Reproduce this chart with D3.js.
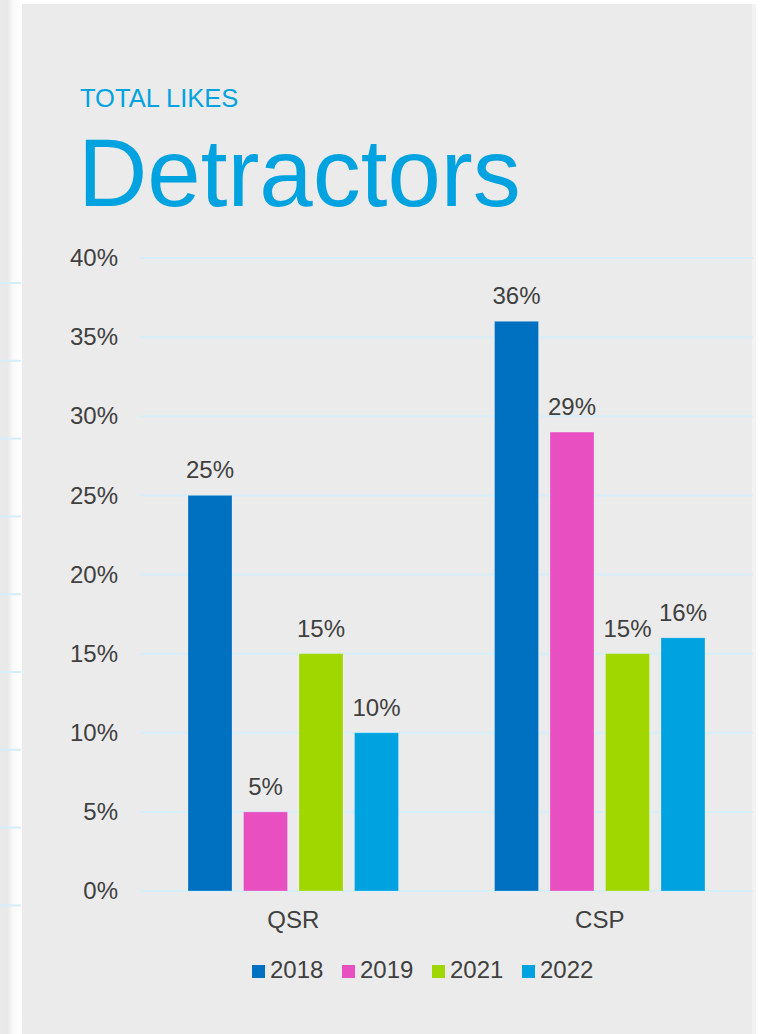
<!DOCTYPE html>
<html>
<head>
<meta charset="utf-8">
<script src="https://cdn.jsdelivr.net/npm/d3@7"></script>
<style>
  body { margin: 0; background: #ffffff; }
  svg { display: block; font-family: "Liberation Sans", Arial, sans-serif; }
</style>
</head>
<body>
<div id="chart"></div>
<script>
// data
var categories = ["QSR", "CSP"];
var years = ["2018", "2019", "2021", "2022"];
var values2018 = [25, 36];
var values2019 = [5, 29];
var values2021 = [15, 15];
var values2022 = [10, 16];
var yTicks = [0, 5, 10, 15, 20, 25, 30, 35, 40];
var colors = ["#0070c0", "#e84fc1", "#a0d700", "#00a3e0"];

var series = [values2018, values2019, values2021, values2022];

var W = 762, H = 1034;
var svg = d3.select("#chart")
  .append("svg")
    .attr("width", W)
    .attr("height", H);

// page background: slice of previous slide on the left, panel, shadow on the right
svg.append("rect").attr("x", 0).attr("y", 0).attr("width", W).attr("height", H).attr("fill", "#ffffff");
svg.append("rect").attr("x", 0).attr("y", 0).attr("width", 7).attr("height", H).attr("fill", "#e9e9e9");
var grad = svg.append("defs").append("linearGradient").attr("id", "strip");
grad.append("stop").attr("offset", "0%").attr("stop-color", "#e6e6e6");
grad.append("stop").attr("offset", "40%").attr("stop-color", "#fafafa");
grad.append("stop").attr("offset", "100%").attr("stop-color", "#ffffff");
svg.append("rect").attr("x", 7).attr("y", 0).attr("width", 15).attr("height", H).attr("fill", "url(#strip)");
svg.append("rect").attr("x", 752).attr("y", 4).attr("width", 4).attr("height", H).attr("fill", "#f2f2f2");
svg.append("rect").attr("x", 22).attr("y", 4).attr("width", 730).attr("height", H).attr("fill", "#ebebeb");

// faint gridlines of the neighbouring slide
var sideLines = d3.range(9);
svg.selectAll(".side")
  .data(sideLines)
  .enter().append("line")
    .attr("x1", 0).attr("x2", 21)
    .attr("y1", function(d) { return 283 + d * 77.8; })
    .attr("y2", function(d) { return 283 + d * 77.8; })
    .attr("stroke", "#d6eef8")
    .attr("stroke-width", 2);

// titles
svg.append("text")
  .attr("x", 80).attr("y", 107)
  .attr("font-size", 25.5)
  .attr("fill", "#00a3e0")
  .text("TOTAL LIKES");
svg.append("text")
  .attr("x", 78).attr("y", 206)
  .attr("font-size", 96)
  .attr("fill", "#00a3e0")
  .text("Detractors");

// scales
var x = d3.scaleBand()
  .domain(categories)
  .range([140, 753]);

var x1 = d3.scaleBand()
  .domain(years)
  .range([0, x.bandwidth()])
  .paddingInner(0.207)
  .paddingOuter(0.865);

var y = d3.scaleLinear()
  .domain([0, 40])
  .range([891, 258]);

// gridlines
svg.append("g")
  .selectAll("line")
  .data(yTicks)
  .enter().append("line")
    .attr("x1", 140).attr("x2", 753)
    .attr("y1", function(d) { return y(d); })
    .attr("y2", function(d) { return y(d); })
    .attr("stroke", "#d6eef8")
    .attr("stroke-width", 2);

// Y axis labels
var yAxis = svg.append("g")
  .attr("transform", "translate(118,0)")
  .call(d3.axisLeft(y).tickValues(yTicks).tickSize(0).tickPadding(0)
    .tickFormat(function(d) { return d + "%"; }));
yAxis.select(".domain").remove();
yAxis.selectAll("text")
  .attr("font-size", 24)
  .attr("font-family", "Liberation Sans, Arial, sans-serif")
  .attr("fill", "#404040");

// X axis labels
var xAxis = svg.append("g")
  .attr("transform", "translate(0,911)")
  .call(d3.axisBottom(x).tickSize(0).tickPadding(0));
xAxis.select(".domain").remove();
xAxis.selectAll("text")
  .attr("dy", "0.71em")
  .attr("font-size", 24)
  .attr("font-family", "Liberation Sans, Arial, sans-serif")
  .attr("fill", "#404040");

// bars
var groups = svg.append("g")
  .selectAll("g")
  .data(categories)
  .enter().append("g")
    .attr("transform", function(d) { return "translate(" + x(d) + ",0)"; });

var cells = groups.selectAll("g")
  .data(function(c, ci) {
    return years.map(function(yr, yi) { return {year: yr, value: series[yi][ci], i: yi}; });
  })
  .enter().append("g");

cells.append("rect")
  .attr("x", function(d) { return x1(d.year); })
  .attr("width", x1.bandwidth())
  .attr("y", function(d) { return y(d.value); })
  .attr("height", function(d) { return y(0) - y(d.value); })
  .attr("fill", function(d) { return colors[d.i]; })
  .attr("stroke", "rgba(255,255,255,0.25)")
  .attr("stroke-width", 1);

cells.append("text")
  .attr("x", function(d) { return x1(d.year) + x1.bandwidth() / 2; })
  .attr("y", function(d) { return y(d.value) - 17; })
  .attr("text-anchor", "middle")
  .attr("font-size", 24)
  .attr("fill", "#404040")
  .text(function(d) { return d.value + "%"; });

// legend
var legend = svg.append("g")
  .selectAll("g")
  .data(years)
  .enter().append("g")
    .attr("transform", function(d, i) { return "translate(" + (252 + i * 90) + ",965)"; });
legend.append("rect")
  .attr("width", 13).attr("height", 13)
  .attr("fill", function(d, i) { return colors[i]; });
legend.append("text")
  .attr("x", 18).attr("y", 13)
  .attr("font-size", 24)
  .attr("fill", "#404040")
  .text(function(d) { return d; });
</script>
</body>
</html>
